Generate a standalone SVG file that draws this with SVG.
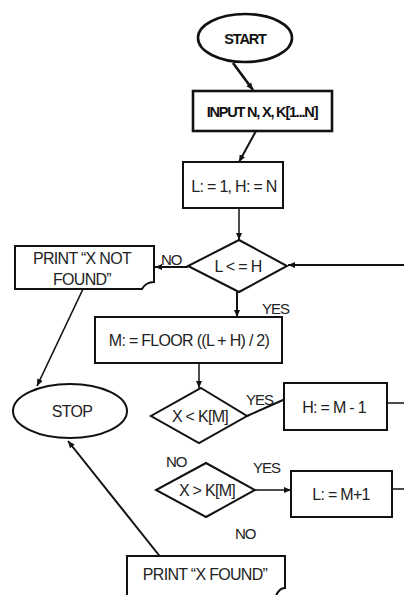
<svg xmlns="http://www.w3.org/2000/svg" width="404" height="595" viewBox="0 0 404 595">
<style>
.shape{fill:#fff;stroke:#111;stroke-width:2}
.thick{stroke-width:2.6}
.con{fill:none;stroke:#111;stroke-width:2}
.t{font-family:"Liberation Sans",Arial,sans-serif;font-size:16px;fill:#222;text-anchor:middle;letter-spacing:-0.7px}
.b{font-weight:bold;font-size:14.5px;letter-spacing:-1.2px;fill:#111}
.lbl{font-family:"Liberation Sans",Arial,sans-serif;font-size:15px;fill:#222;letter-spacing:-1px}
</style>
<defs>
<marker id="arr" markerWidth="8" markerHeight="8" refX="7" refY="4" orient="auto" markerUnits="userSpaceOnUse">
<path d="M0,1 L7,4 L0,7 Z" fill="#111"/>
</marker>
</defs>
<rect width="404" height="595" fill="#fff"/>
<g id="connectors">
<line class="con" x1="233" y1="63" x2="253" y2="90" marker-end="url(#arr)" style="stroke-width:2.6"/>
<line class="con" x1="256" y1="131" x2="239" y2="162" marker-end="url(#arr)"/>
<line class="con" x1="239" y1="208" x2="239" y2="240" marker-end="url(#arr)" style="stroke-width:1.5"/>
<line class="con" x1="188" y1="267" x2="155" y2="267" marker-end="url(#arr)"/>
<line class="con" x1="83" y1="289" x2="37" y2="386" marker-end="url(#arr)" style="stroke-width:1.6"/>
<line class="con" x1="237" y1="292" x2="237" y2="317" marker-end="url(#arr)"/>
<line class="con" x1="199" y1="363" x2="199" y2="388" marker-end="url(#arr)" style="stroke-width:1.5"/>
<line class="con" x1="247" y1="416" x2="292" y2="396" marker-end="url(#arr)"/>
<line class="con" x1="387" y1="403" x2="404" y2="403" style="stroke-width:1.5"/>
<line class="con" x1="255" y1="490" x2="291" y2="490" marker-end="url(#arr)" style="stroke-width:1.5"/>
<line class="con" x1="392" y1="489" x2="404" y2="489" style="stroke-width:1.5"/>
<line class="con" x1="404" y1="265" x2="288" y2="265" marker-end="url(#arr)"/>
<line class="con" x1="162" y1="559" x2="68" y2="441" marker-end="url(#arr)"/>
</g>
<g id="start">
<ellipse class="shape thick" cx="245" cy="38" rx="47" ry="24"/>
<text class="t b" x="245" y="44">START</text>
</g>
<g id="input">
<rect class="shape thick" x="193" y="91" width="139" height="40"/>
<text class="t b" x="262" y="117">INPUT N, X, K[1...N]</text>
</g>
<g id="init">
<rect class="shape" x="183" y="162" width="100" height="46"/>
<text class="t" x="234" y="192">L: = 1, H: = N</text>
</g>
<g id="cond1">
<polygon class="shape" points="239,240 287,266 239,292 188,266"/>
<text class="t" x="238" y="272">L &lt; = H</text>
</g>
<text class="lbl" x="161" y="265">NO</text>
<text class="lbl" x="262" y="314">YES</text>
<g id="notfound">
<path class="shape" d="M15,246 H154 V282 Q146,282 142,289 H15 Z"/>
<text class="t" x="82" y="264">PRINT “X NOT</text>
<text class="t" x="82" y="285">FOUND”</text>
</g>
<g id="stop">
<ellipse class="shape" cx="70" cy="411" rx="57" ry="27"/>
<text class="t" x="72" y="417">STOP</text>
</g>
<g id="mid">
<rect class="shape" x="95" y="317" width="187" height="46"/>
<text class="t" x="189" y="346">M: = FLOOR ((L + H) / 2)</text>
</g>
<g id="cond2">
<polygon class="shape" points="201,388 247,416 199,443 151,416"/>
<text class="t" x="200" y="422">X &lt; K[M]</text>
</g>
<text class="lbl" x="246" y="405">YES</text>
<text class="lbl" x="166" y="467">NO</text>
<g id="hupd">
<rect class="shape" x="284" y="383" width="103" height="47"/>
<text class="t" x="334" y="413">H: = M - 1</text>
</g>
<text class="lbl" x="253" y="473">YES</text>
<g id="cond3">
<polygon class="shape" points="206,463 255,490 206,517 156,490"/>
<text class="t" x="207" y="496">X &gt; K[M]</text>
</g>
<text class="lbl" x="235" y="539">NO</text>
<g id="lupd">
<rect class="shape" x="291" y="471" width="101" height="46"/>
<text class="t" x="341" y="500">L: = M+1</text>
</g>
<g id="found">
<path class="shape" d="M127,556 H285 V588 Q279,588 276,596 H127 Z"/>
<text class="t" x="205" y="580">PRINT “X FOUND”</text>
</g>
</svg>
